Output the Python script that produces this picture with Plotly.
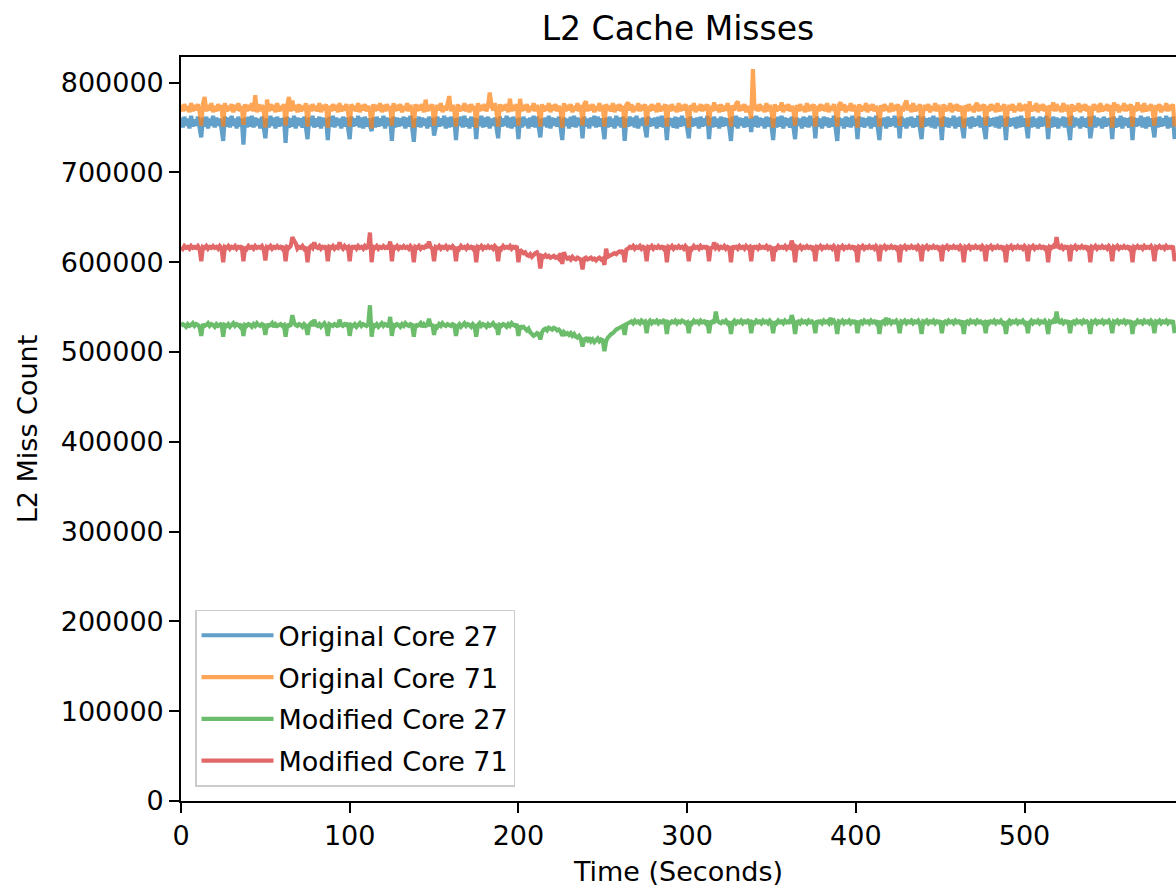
import plotly.graph_objects as go

# L2 miss counts per second, in thousands
orig_core27_k = [
761,750,762,752,760,749,763,751,759,752,
762,750,739,761,751,762,749,760,752,763,
750,761,752,760,749,735,762,751,761,750,
763,752,760,749,762,751,760,731,761,750,
762,751,763,750,761,752,760,749,762,751,
738,760,750,763,752,761,749,762,751,760,
752,761,733,762,750,760,751,763,749,761,
752,760,750,762,751,737,761,752,763,750,
760,751,762,749,761,752,760,736,762,751,
763,750,761,752,760,749,762,751,761,750,
737,762,751,760,752,763,750,761,749,762,
751,760,752,746,761,750,762,751,760,752,
763,749,761,752,760,735,762,750,761,751,
760,752,762,749,761,751,763,750,734,760,
751,762,750,761,752,760,749,762,751,761,
741,750,762,751,760,752,763,749,761,750,
762,751,760,736,761,752,762,750,763,751,
760,749,762,751,761,737,760,752,763,750,
761,751,762,749,760,752,761,750,738,762,
751,760,752,763,750,761,749,762,751,760,
737,761,750,762,752,760,749,761,751,763,
750,762,751,739,760,752,761,750,763,749,
761,752,760,751,762,750,736,761,752,760,
749,762,751,763,750,761,752,760,738,762,
751,760,749,761,752,763,750,762,751,760,
752,737,761,750,762,751,760,749,763,752,
761,750,762,735,760,751,762,752,761,750,
763,749,760,752,761,750,739,762,751,760,
752,761,749,762,751,763,750,760,736,761,
752,760,750,762,749,761,751,763,752,760,
750,738,762,751,760,752,761,749,762,751,
760,752,763,737,761,750,762,751,760,749,
762,751,761,752,760,750,735,762,751,763,
749,761,752,760,750,762,751,760,745,762,
751,763,750,761,752,760,749,762,751,761,
752,736,760,750,762,751,763,749,761,752,
760,750,762,751,737,761,752,760,749,762,
751,761,750,763,752,760,738,762,751,760,
749,762,752,761,750,760,751,763,750,735,
761,752,760,749,762,751,761,750,763,752,
760,737,762,751,761,750,760,752,762,749,
761,751,763,750,736,760,752,761,749,762,
751,760,752,763,750,761,738,762,751,760,
749,761,752,762,750,760,751,763,749,737,
762,751,760,752,761,750,763,749,761,752,
760,736,762,751,761,750,760,752,763,749,
761,751,762,750,738,760,752,761,749,762,
751,760,752,763,750,761,749,737,762,751,
760,752,761,750,762,749,763,751,760,736,
762,751,760,752,761,749,762,750,763,751,
760,752,738,761,750,762,751,760,749,762,
751,761,752,763,737,760,750,762,751,761,
749,760,752,762,750,761,751,736,763,750,
761,752,760,749,762,751,760,750,762,738,
751,763,750,761,752,760,749,762,751,760,
752,761,737,762,750,760,751,763,749,761,
752,760,750,762,736,761,751,760,752,763,
750,761,749,762,751,760,752,739,761,750,
762,751,760,752,763,749,761,750,762,737,
]

orig_core71_k = [
775,768,776,769,774,767,777,768,775,769,
776,768,752,776,784,768,775,769,777,767,
774,768,776,769,775,751,777,768,774,769,
776,767,775,769,777,768,774,753,776,768,
775,769,777,768,786,767,776,768,775,769,
750,781,768,776,769,775,767,777,768,774,
769,776,752,775,784,768,780,769,775,767,
776,768,774,769,777,751,775,768,776,769,
774,768,777,767,775,769,776,750,774,768,
776,769,775,767,777,768,774,769,776,768,
751,776,769,774,768,777,767,775,769,776,
768,774,769,749,776,768,775,769,777,767,
775,768,776,769,774,752,777,768,775,769,
776,767,774,769,777,768,775,768,750,776,
768,775,769,776,767,781,768,775,769,776,
752,768,775,769,777,767,774,769,776,785,
768,775,769,751,776,768,774,769,777,768,
775,767,776,769,774,750,777,768,775,769,
776,768,774,789,775,769,777,767,751,776,
768,775,769,776,767,782,768,775,769,776,
752,782,768,775,769,776,767,774,769,777,
768,775,769,751,776,768,774,769,777,767,
775,769,776,768,774,769,750,777,768,775,
769,776,767,774,769,777,768,775,752,776,
779,768,775,769,776,767,774,769,777,768,
775,751,776,769,774,768,777,767,775,769,
776,768,774,750,775,778,769,776,767,774,
769,777,768,775,769,776,752,774,768,776,
769,775,767,777,768,774,769,776,751,775,
768,776,769,774,767,777,768,775,769,776,
768,750,775,769,777,767,774,769,776,768,
775,769,776,752,774,768,778,769,775,767,
776,768,774,769,777,768,751,775,769,776,
779,768,775,769,776,767,774,769,760,815,
769,775,768,776,769,774,767,777,768,775,
769,750,776,768,774,769,778,767,775,769,
776,768,774,769,752,775,768,776,769,774,
767,777,768,775,769,776,751,774,768,776,
769,775,768,777,767,774,769,776,768,751,
775,778,769,776,767,774,769,777,768,775,
769,750,776,768,774,769,777,767,775,769,
776,768,774,769,751,775,768,776,769,774,
767,777,768,775,769,776,752,774,768,776,
780,769,775,767,777,768,774,769,776,750,
768,775,769,776,767,774,769,777,768,775,
769,751,776,768,774,769,777,767,775,769,
776,768,774,769,750,775,768,776,769,774,
767,775,777,768,775,769,776,752,774,768,
776,769,775,767,777,768,774,769,776,751,
768,775,769,776,767,774,769,777,768,775,
769,776,751,779,768,774,769,777,767,775,
769,776,768,774,750,775,769,778,768,776,
769,774,767,777,768,775,769,752,776,768,
774,769,777,767,775,769,776,768,774,751,
768,776,769,775,767,777,768,774,769,776,
768,775,750,778,769,776,767,774,769,777,
768,775,769,776,751,774,768,778,769,775,
767,777,768,774,769,776,768,752,775,769,
776,767,774,769,777,768,775,769,776,751,
]

mod_core27_k = [
529,531,530,528,531,529,530,532,529,531,
530,528,518,531,529,530,532,529,531,530,
528,531,529,530,532,517,530,529,531,528,
530,532,529,531,530,528,531,518,530,529,
531,530,528,531,529,532,530,529,531,530,
519,531,529,530,532,528,531,529,530,531,
529,530,517,531,529,530,541,533,530,529,
531,530,528,531,529,519,530,532,529,536,
530,529,531,528,530,532,529,518,531,530,
529,531,530,528,536,530,529,531,530,532,
518,530,529,531,528,530,532,529,531,530,
529,531,552,517,530,529,531,528,530,532,
529,531,530,528,539,518,530,529,531,530,
528,531,529,532,530,529,531,530,517,531,
529,530,532,528,531,529,530,537,529,531,
519,530,528,531,529,532,530,529,531,530,
529,531,530,518,529,531,528,530,532,529,
531,530,528,531,529,517,530,532,529,531,
530,528,531,529,530,532,529,531,519,530,
529,531,530,528,531,529,532,530,529,531,
518,529,527,528,526,524,526,522,520,518,
519,521,520,514,522,525,526,524,527,526,
525,527,526,524,525,523,518,522,520,521,
519,521,518,520,517,516,518,515,506,514,
515,513,516,512,514,511,513,515,512,514,
513,501,512,516,518,520,521,523,525,526,
527,528,529,519,531,532,533,534,532,535,
533,534,532,535,533,534,521,533,535,532,
534,533,535,532,534,533,535,534,520,533,
532,534,533,535,532,534,533,535,534,532,
533,521,534,532,535,533,534,532,535,533,
534,532,535,521,533,534,532,545,535,533,
532,534,533,535,532,534,520,533,535,532,
534,533,535,532,534,533,535,534,521,533,
532,535,533,534,532,535,533,534,532,535,
533,521,534,532,535,533,534,532,535,533,
534,532,541,535,520,533,534,532,535,533,
534,532,535,533,534,532,521,535,533,534,
532,535,533,534,532,538,533,535,532,520,
534,533,535,532,534,533,535,532,534,533,
535,521,533,534,532,535,533,534,532,535,
533,534,532,535,520,533,534,532,538,533,
535,532,534,533,535,532,521,534,533,535,
532,534,533,535,532,534,533,535,532,520,
534,533,535,532,534,533,535,532,534,533,
535,521,533,534,532,535,533,534,532,535,
533,534,532,535,520,533,534,532,535,533,
534,532,535,533,534,532,533,521,535,532,
534,533,535,532,534,533,535,532,534,520,
533,535,532,534,533,535,532,534,533,535,
532,534,521,533,535,532,534,533,535,532,
534,533,535,532,520,534,533,535,532,545,
534,533,535,532,534,533,535,521,533,534,
532,535,533,534,532,535,533,534,532,520,
534,533,535,532,534,533,535,532,534,533,
535,532,521,534,533,535,532,534,533,535,
532,534,533,535,520,534,532,535,533,534,
532,535,533,534,532,535,533,521,534,533,
535,532,534,533,535,532,534,533,535,521,
]

mod_core71_k = [
617,615,618,616,617,615,618,616,617,616,
618,615,601,617,616,618,615,617,616,618,
616,617,615,618,616,600,617,616,618,615,
617,616,618,615,617,616,618,601,617,615,
618,616,617,615,618,616,617,616,618,615,
602,617,616,618,615,617,616,618,616,617,
615,618,601,617,616,618,628,624,621,615,
617,616,618,615,617,600,616,618,616,622,
617,616,618,615,617,616,618,601,617,616,
618,615,617,616,622,617,615,618,616,617,
601,618,616,617,615,618,616,617,615,618,
616,617,633,600,617,616,618,615,617,616,
618,616,617,615,623,601,617,616,618,615,
617,616,618,616,617,615,618,616,600,617,
616,618,615,617,616,618,616,623,617,615,
601,617,616,618,615,617,616,618,615,617,
616,618,616,601,617,615,618,616,617,615,
618,616,617,615,618,600,617,616,618,615,
617,616,618,616,617,615,618,616,601,617,
615,618,616,617,616,618,615,617,616,618,
600,614,612,610,611,608,607,609,606,608,
610,611,607,593,607,606,608,606,607,605,
606,607,605,606,604,610,598,611,606,604,
605,603,606,604,603,605,604,603,592,604,
605,603,604,605,603,604,602,604,605,603,
604,597,615,606,607,608,609,610,609,611,
612,611,613,600,614,615,617,616,618,615,
617,616,618,615,617,616,601,617,616,618,
615,617,616,618,616,617,615,618,600,617,
616,618,615,617,616,618,616,617,615,618,
616,601,617,615,618,616,617,615,618,616,
617,616,618,601,617,615,622,616,618,615,
617,616,618,615,617,616,600,618,616,617,
615,618,616,617,615,618,616,617,601,618,
616,617,615,618,616,617,616,618,615,617,
616,601,617,615,618,616,617,616,618,615,
617,616,624,618,600,617,616,618,615,617,
616,618,616,617,615,618,601,617,616,618,
615,617,616,618,616,617,615,618,616,601,
617,616,618,615,617,616,618,616,617,615,
618,600,617,616,618,615,617,616,618,616,
617,615,618,616,601,617,616,618,615,617,
616,618,616,617,615,618,600,617,616,618,
615,617,616,618,616,617,615,618,616,601,
617,616,618,615,617,616,618,616,617,615,
618,601,617,616,618,615,617,616,618,616,
617,615,618,616,600,617,616,618,615,617,
616,618,616,617,615,618,616,601,617,616,
618,615,617,616,618,616,617,615,618,600,
617,616,618,615,617,616,618,616,617,615,
618,616,601,617,616,618,615,617,616,618,
616,617,615,618,600,617,616,618,616,628,
617,616,618,615,617,616,618,601,617,616,
618,615,617,616,618,616,617,615,618,600,
617,616,618,615,617,616,618,616,617,615,
618,616,601,617,616,618,615,617,616,618,
616,617,615,618,600,617,616,618,616,617,
615,618,616,617,616,618,615,601,617,616,
618,616,617,615,618,616,617,616,618,601,
]

series_names = ["Original Core 27", "Original Core 71", "Modified Core 27", "Modified Core 71"]
series_k = [orig_core27_k, orig_core71_k, mod_core27_k, mod_core71_k]
series_colors = ["rgba(31,119,180,0.7)", "rgba(255,127,14,0.7)", "rgba(44,160,44,0.7)", "rgba(214,39,40,0.7)"]

x_ticks = [0, 100, 200, 300, 400, 500]
y_ticks = [0, 100000, 200000, 300000, 400000, 500000, 600000, 700000, 800000]

FONT = "DejaVu Sans"

fig = go.Figure()
for name, vals_k, col in zip(series_names, series_k, series_colors):
    time_s = list(range(len(vals_k)))
    fig.add_trace(go.Scatter(
        x=time_s, y=[v * 1000 for v in vals_k], mode="lines", name=name,
        legendgroup=name,
        line=dict(color=col, width=4.2, simplify=False),
        hoverinfo="skip",
    ))

tick_common = dict(
    showline=True, linecolor="black", linewidth=2.2,
    ticks="outside", ticklen=9.7, tickwidth=2.2, tickcolor="black",
    showgrid=False, zeroline=False,
    tickfont=dict(family=FONT, size=27, color="black"),
)

fig.update_layout(
    width=1176, height=892,
    margin=dict(l=181, r=0, t=57, b=91),
    paper_bgcolor="white", plot_bgcolor="white",
    font=dict(family=FONT, size=27, color="black"),
    title=dict(text="L2 Cache Misses", x=(678 - 181) / 995, xref="paper", xanchor="center",
               y=1 - 28 / 892, yref="container", yanchor="middle",
               font=dict(family=FONT, size=33, color="black")),
    xaxis=dict(range=[0, 589.8], tickvals=x_ticks, ticktext=[str(v) for v in x_ticks],
               mirror=True,
               title=dict(text="Time (Seconds)", standoff=12,
                          font=dict(family=FONT, size=27, color="black")),
               **tick_common),
    yaxis=dict(range=[0, 828500], tickvals=y_ticks, ticktext=[str(v) for v in y_ticks],
               mirror=False,
               title=dict(text="L2 Miss Count", standoff=15,
                          font=dict(family=FONT, size=27, color="black")),
               **tick_common),
    legend=dict(x=14 / 995, y=0.0192, xanchor="left", yanchor="bottom",
                bgcolor="rgba(255,255,255,0.8)", bordercolor="#cccccc", borderwidth=1.5,
                font=dict(family=FONT, size=27, color="black"),
                tracegroupgap=3.7, itemwidth=72),
    showlegend=True,
)

fig.write_html("out.html")
